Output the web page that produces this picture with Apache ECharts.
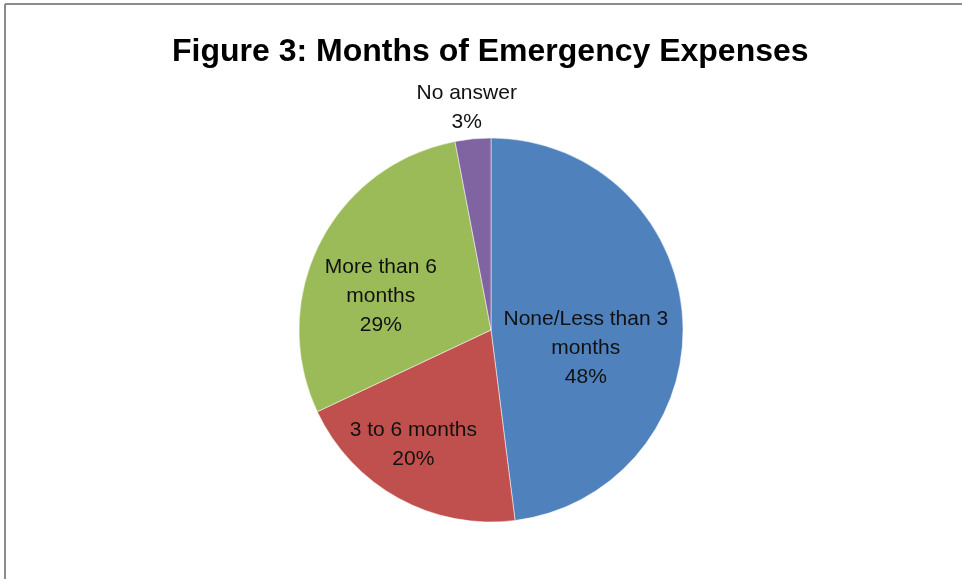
<!DOCTYPE html>
<html lang="en">
<head>
    <meta charset="UTF-8">
    <title>Figure 3</title>
    <script src="https://cdn.jsdelivr.net/npm/echarts@6/dist/echarts.min.js"></script>
    <style>
        html, body { margin: 0; padding: 0; background: #fff; }
    </style>
</head>
<body>
<div id="main" style="width: 962px;height:579px;"></div>

<script type="text/javascript">
    // data
    var categories = ['None/Less than 3\nmonths', '3 to 6 months', 'More than 6\nmonths', 'No answer'];
    var percents = [48, 20, 29, 3];
    var colors = ['#4F81BD', '#C0504D', '#9BBB59', '#8064A2'];

    // nudge labels to where Excel put them
    var labelShift = [[-4, 24], [-30, 28], [-22, 11], [-15, -124]];

    var pieData = categories.map(function (name, i) {
        return {
            name: name,
            value: percents[i],
            itemStyle: { color: colors[i] },
            label: { offset: labelShift[i] }
        };
    });

    var myChart = echarts.init(document.getElementById('main'));

    var option = {
        backgroundColor: '#fff',
        animation: false,
        title: {
            text: 'Figure 3: Months of Emergency Expenses',
            left: 172,
            top: 36,
            padding: 0,
            textStyle: {
                fontFamily: 'Liberation Sans',
                fontWeight: 'bold',
                fontSize: 32,
                color: '#000'
            }
        },
        graphic: [
            { type: 'line', shape: { x1: 5, y1: 4, x2: 962, y2: 4 }, style: { stroke: '#8c8c8c', lineWidth: 2 } },
            { type: 'line', shape: { x1: 5, y1: 4, x2: 5, y2: 579 }, style: { stroke: '#8c8c8c', lineWidth: 2 } }
        ],
        series: [{
            type: 'pie',
            center: [491, 330],
            radius: 192,
            startAngle: 90,
            clockwise: true,
            avoidLabelOverlap: false,
            itemStyle: { borderColor: '#fff', borderWidth: 0.5 },
            label: {
                show: true,
                position: 'inside',
                formatter: '{b}\n{c}%',
                fontFamily: 'Liberation Sans',
                fontSize: 21,
                lineHeight: 29,
                color: '#111',
                align: 'center'
            },
            labelLine: { show: false },
            emphasis: { disabled: true },
            data: pieData
        }]
    };

    myChart.setOption(option);
</script>

</body>
</html>
